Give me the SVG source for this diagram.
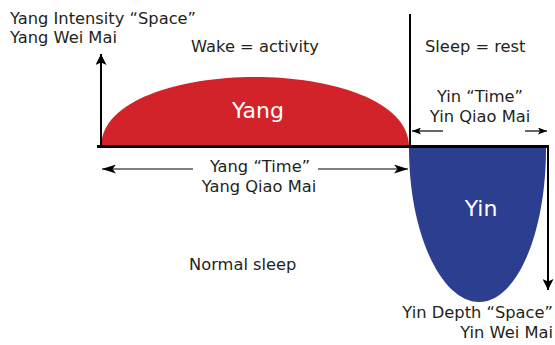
<svg xmlns="http://www.w3.org/2000/svg" width="555" height="345" viewBox="0 0 555 345">
  <style>
    text { font-family: "DejaVu Sans", "Liberation Sans", sans-serif; font-size: 16.3px; fill: #231f20; }
    .mid { text-anchor: middle; }
    .end { text-anchor: end; }
    .big { font-size: 22px; fill: #ffffff; }
    .axis { stroke: #000; stroke-width: 2; fill: none; }
    .time { stroke: #555; stroke-width: 1.5; fill: none; }
    .thin { stroke: #000; stroke-width: 1.2; fill: none; }
  </style>
  <defs>
    <marker id="barb" viewBox="0 0 14 9" refX="14" refY="4.5" markerWidth="14" markerHeight="9" markerUnits="userSpaceOnUse" orient="auto">
      <path d="M0,0 L14,4.5 L0,9 L3.5,4.5 Z" fill="#000"/>
    </marker>
    <marker id="axhead" viewBox="0 0 11 11" refX="11" refY="5.5" markerWidth="11" markerHeight="11" markerUnits="userSpaceOnUse" orient="auto">
      <path d="M0,0 L11,5.5 L0,11 L2.5,5.5 Z" fill="#000"/>
    </marker>
    <marker id="small" viewBox="0 0 9 7" refX="9" refY="3.5" markerWidth="9" markerHeight="7" markerUnits="userSpaceOnUse" orient="auto">
      <path d="M0,0 L9,3.5 L0,7 L2,3.5 Z" fill="#000"/>
    </marker>
  </defs>

  <g id="yang">
    <path d="M101,147 C101,100 180,77 255,77 C330,77 409,100 409,147 Z" fill="#d2232a"/>
    <text class="mid big" x="258" y="118">Yang</text>
  </g>

  <g id="yin">
    <path d="M409,148 C409,235 442,302 479,302 C516,302 546,235 546,148 Z" fill="#2b3e8f"/>
    <text class="mid big" x="481" y="216">Yin</text>
  </g>

  <g id="connectors">
    <line class="axis" x1="410" y1="14" x2="410" y2="147"/>
    <line x1="97" y1="146.5" x2="549" y2="146.5" stroke="#000" stroke-width="3"/>
    <line class="axis" x1="101" y1="146" x2="101" y2="54" marker-end="url(#axhead)"/>
    <line class="axis" x1="548" y1="146" x2="548" y2="290" marker-end="url(#axhead)"/>
    <line class="time" x1="193" y1="169" x2="102" y2="169" marker-end="url(#barb)"/>
    <line class="time" x1="318" y1="169" x2="408" y2="169" marker-end="url(#barb)"/>
    <line class="thin" x1="443" y1="131" x2="412" y2="131" marker-end="url(#small)"/>
    <line class="thin" x1="525" y1="131" x2="547" y2="131" marker-end="url(#small)"/>
  </g>

  <g id="yang-space">
    <text x="10" y="24">Yang Intensity “Space”</text>
    <text x="10" y="43">Yang Wei Mai</text>
  </g>
  <g id="wake">
    <text class="mid" x="255" y="52">Wake = activity</text>
  </g>
  <g id="sleep">
    <text x="425" y="52">Sleep = rest</text>
  </g>
  <g id="yin-time">
    <text class="mid" x="480" y="102">Yin “Time”</text>
    <text class="mid" x="480" y="122">Yin Qiao Mai</text>
  </g>
  <g id="yang-time">
    <text class="mid" x="260" y="172">Yang “Time”</text>
    <text class="mid" x="259" y="192">Yang Qiao Mai</text>
  </g>
  <g id="normal-sleep">
    <text x="189" y="270">Normal sleep</text>
  </g>
  <g id="yin-space">
    <text class="end" x="553" y="318">Yin Depth “Space”</text>
    <text class="end" x="553" y="338">Yin Wei Mai</text>
  </g>
</svg>
